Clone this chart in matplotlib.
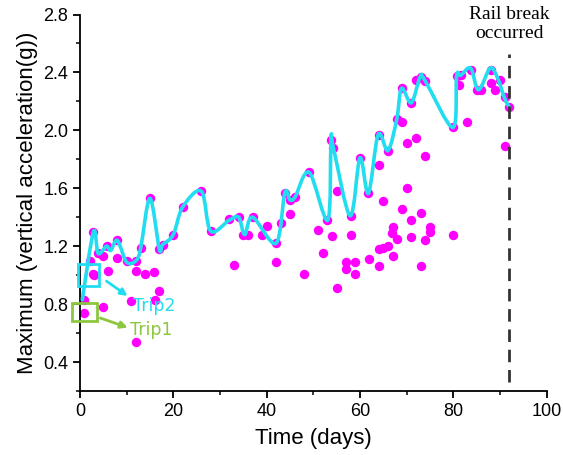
import matplotlib
matplotlib.use("Agg")
import matplotlib.pyplot as plt
from matplotlib.ticker import MultipleLocator
from matplotlib.patches import Rectangle, PathPatch
from matplotlib.path import Path

# ---- data ----
scatter_days = [0.9, 0.9, 2.1, 2.7, 3.0, 2.9, 3.9, 5.0, 4.9, 6.0, 5.7, 8.0, 8.0, 10, 10.9,
                12, 12, 12, 13, 13.9, 15.9, 16.1, 17, 15, 17, 17.7, 20, 22, 26, 28,
                32, 33, 34, 35, 36, 37, 39, 40, 42, 42, 43, 44, 45, 46, 45, 48, 49, 51,
                52, 53, 53.9, 53.8, 54.3, 55, 55, 57, 57, 58, 58, 59, 59, 60, 61.8, 62,
                64, 64, 64, 65, 66, 64, 65, 66, 67, 66.8, 68, 67, 67.9, 69, 69, 69, 70,
                70, 71, 71, 71, 72, 72, 73, 74, 73, 73, 74, 74, 75, 75, 80, 83, 80,
                80.7, 81.6, 81.3, 83.7, 85, 86, 88, 88, 89, 90, 91, 92, 91]
scatter_vals = [0.83, 0.74, 1.10, 1.01, 1.00, 1.30, 1.15, 1.13, 0.78, 1.03, 1.20, 1.24, 1.12, 1.10, 0.82,
                1.10, 1.03, 0.54, 1.185, 1.01, 1.02, 0.83, 0.89, 1.53, 1.18, 1.21, 1.28, 1.47, 1.58, 1.305,
                1.39, 1.07, 1.40, 1.28, 1.28, 1.40, 1.28, 1.34, 1.22, 1.09, 1.36, 1.57, 1.52, 1.54, 1.42, 1.01, 1.71, 1.31,
                1.155, 1.38, 1.27, 1.93, 1.88, 1.58, 0.91, 1.09, 1.04, 1.41, 1.28, 1.09, 1.01, 1.81, 1.565, 1.11,
                1.97, 1.76, 1.06, 1.51, 1.86, 1.18, 1.19, 1.20, 1.33, 1.29, 1.25, 1.13, 2.08, 2.06, 2.29, 1.455, 1.915,
                1.60, 2.19, 1.38, 1.26, 1.945, 2.35, 2.37, 2.34, 1.43, 1.06, 1.82, 1.24, 1.33, 1.30, 2.02, 2.06, 1.28,
                2.375, 2.38, 2.31, 2.42, 2.28, 2.28, 2.42, 2.33, 2.28, 2.35, 2.23, 2.16, 1.89]

line_days = [0.5, 2.9, 3.9, 5.7, 6.6, 8.0, 10, 12, 13, 15, 17, 17.7, 20, 22, 26, 28,
             32, 34, 35.3, 37, 42, 43.9, 45, 46.1, 49.1, 53.1, 53.8, 54.3, 57.9, 60,
             61.8, 63.9, 66, 67.9, 68.9, 71, 72.9, 74, 79.9, 80.7, 81.6, 83.7, 85.4,
             87.9, 89.5, 91, 92]
line_vals = [0.83, 1.30, 1.15, 1.20, 1.17, 1.24, 1.09, 1.10, 1.185, 1.53, 1.18, 1.21, 1.28, 1.47, 1.58, 1.305,
             1.38, 1.40, 1.28, 1.40, 1.22, 1.57, 1.52, 1.54, 1.71, 1.38, 1.93, 1.88, 1.41, 1.81,
             1.565, 1.97, 1.86, 2.08, 2.29, 2.19, 2.37, 2.34, 2.02, 2.375, 2.38, 2.43, 2.28,
             2.43, 2.36, 2.22, 2.16]

x_ticks = [0, 20, 40, 60, 80, 100]
y_ticks = [0.4, 0.8, 1.2, 1.6, 2.0, 2.4, 2.8]

break_day = 92
break_range = (0.26, 2.53)

trip2_box = (-0.4, 0.925, 4.5, 0.15)   # x, y, w, h (days, g)
trip1_box = (-1.8, 0.68, 5.5, 0.13)

# ---- figure ----
fig = plt.figure(figsize=(5.63, 4.55), dpi=100)
ax = fig.add_axes([0.142, 0.1407, 0.829, 0.8274])

magenta = "#FF00FF"
cyan = "#22DDF0"
green = "#8DC63F"

ax.scatter(scatter_days, scatter_vals, s=46, color=magenta, zorder=2, linewidths=0)

# smooth (spline-like) rendering of the connecting line via Bezier path segments
pts = list(zip(line_days, line_vals))
verts = [pts[0]]
codes = [Path.MOVETO]
n = len(pts)
for i in range(n - 1):
    p0 = pts[i - 1] if i > 0 else pts[i]
    p1 = pts[i]
    p2 = pts[i + 1]
    p3 = pts[i + 2] if i + 2 < n else pts[i + 1]
    c1 = (p1[0] + (p2[0] - p0[0]) / 6, p1[1] + (p2[1] - p0[1]) / 6)
    c2 = (p2[0] - (p3[0] - p1[0]) / 6, p2[1] - (p3[1] - p1[1]) / 6)
    verts += [c1, c2, p2]
    codes += [Path.CURVE4] * 3
ax.add_patch(PathPatch(Path(verts, codes), fill=False, edgecolor=cyan, lw=2.6,
                       zorder=3, joinstyle="round", capstyle="round"))

ax.plot([break_day, break_day], list(break_range), color="#333333", lw=2.0,
        dashes=(4.5, 2.8), zorder=4)
ax.text(break_day, 2.86, "Rail break\noccurred", ha="center", va="top",
        family="Liberation Serif", fontsize=14, linespacing=1.15, clip_on=False)

ax.add_patch(Rectangle(trip2_box[:2], trip2_box[2], trip2_box[3], fill=False,
                       edgecolor=cyan, lw=2, zorder=5, clip_on=False))
ax.add_patch(Rectangle(trip1_box[:2], trip1_box[2], trip1_box[3], fill=False,
                       edgecolor=green, lw=2, zorder=5, clip_on=False))

ax.annotate("", xy=(10.7, 0.845), xytext=(5.2, 0.97),
            arrowprops=dict(arrowstyle="-|>", color=cyan, lw=2, mutation_scale=10))
ax.text(11.3, 0.79, "Trip2", color=cyan, fontsize=12.5, ha="left", va="center")
ax.annotate("", xy=(10.8, 0.632), xytext=(3.8, 0.71),
            arrowprops=dict(arrowstyle="-|>", color=green, lw=2, mutation_scale=10))
ax.text(10.8, 0.62, "Trip1", color=green, fontsize=12.5, ha="left", va="center")

ax.set_xlim(0, 100)
ax.set_ylim(0.2, 2.8)
ax.set_xticks(x_ticks)
ax.set_yticks(y_ticks)
ax.xaxis.set_minor_locator(MultipleLocator(10))
ax.yaxis.set_minor_locator(MultipleLocator(0.2))
for s in ["top", "right"]:
    ax.spines[s].set_visible(False)
for s in ["left", "bottom"]:
    ax.spines[s].set_linewidth(1.3)
ax.tick_params(which="major", direction="out", length=5, width=1.3, labelsize=13)
ax.tick_params(which="minor", direction="out", length=3, width=1.1)
for lab in ax.get_xticklabels() + ax.get_yticklabels():
    lab.set_family("Liberation Sans")

ax.set_xlabel("Time (days)", fontsize=16, family="Liberation Sans", labelpad=6)
ax.set_ylabel("Maximum (vertical acceleration(g))", fontsize=16, family="Liberation Sans", labelpad=4)

fig.savefig("out.png", dpi=100)
